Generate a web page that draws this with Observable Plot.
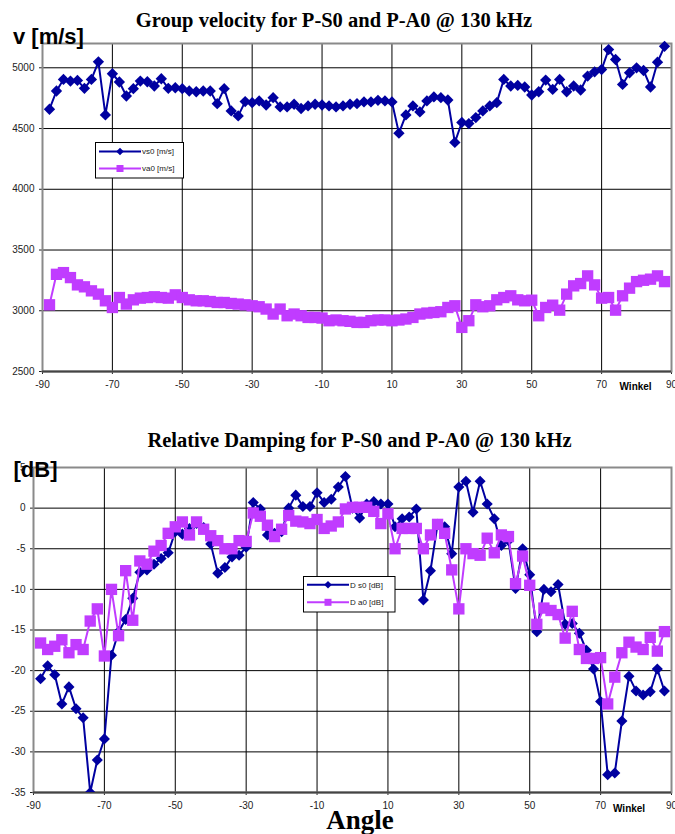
<!DOCTYPE html>
<html>
<head>
<meta charset="utf-8">
<script src="https://cdn.jsdelivr.net/npm/d3@7"></script>
<script src="https://cdn.jsdelivr.net/npm/@observablehq/plot@0.6"></script>
<style>
  body { margin: 0; background: #fff; }
  #wrap { position: relative; width: 675px; height: 834px; overflow: hidden; background: #fff; }
  .panel { position: absolute; left: 0; }
  .legend { position: absolute; }
</style>
</head>
<body>
<div id="wrap"></div>
<script>
// ---------- data ----------
const angles = [
  -88,-86,-84,-82,-80,-78,-76,-74,-72,-70,
  -68,-66,-64,-62,-60,-58,-56,-54,-52,-50,
  -48,-46,-44,-42,-40,-38,-36,-34,-32,-30,
  -28,-26,-24,-22,-20,-18,-16,-14,-12,-10,
  -8,-6,-4,-2,0,2,4,6,8,10,
  12,14,16,18,20,22,24,26,28,30,
  32,34,36,38,40,42,44,46,48,50,
  52,54,56,58,60,62,64,66,68,70,
  72,74,76,78,80,82,84,86,88
];

// group velocity S0 [m/s]
const vs0 = [
  4659,4809,4904,4891,4896,4831,4904,5049,4612,4951,
  4883,4768,4828,4891,4885,4850,4910,4831,4836,4828,
  4809,4803,4809,4809,4705,4828,4645,4604,4722,4713,
  4727,4694,4754,4678,4678,4700,4665,4686,4700,4694,
  4686,4678,4686,4700,4705,4719,4719,4732,4727,4719,
  4462,4612,4686,4637,4727,4760,4754,4735,4386,4550,
  4541,4590,4645,4686,4713,4904,4850,4855,4842,4776,
  4803,4899,4822,4904,4803,4850,4817,4932,4967,4986,
  5150,5068,4863,4959,5000,4978,4842,5046,5177
];

// group velocity A0 [m/s]
const va0 = [
  3049,3300,3314,3273,3213,3197,3164,3137,3082,3027,
  3109,3055,3090,3104,3109,3115,3109,3104,3131,3109,
  3090,3082,3082,3076,3068,3068,3060,3055,3049,3041,
  3033,3014,2973,3014,2959,2973,2959,2945,2945,2940,
  2918,2924,2918,2913,2904,2904,2918,2924,2924,2918,
  2924,2932,2945,2973,2981,2986,2992,3027,3041,2863,
  2918,3049,3033,3041,3090,3109,3123,3090,3082,3087,
  2959,3027,3046,3005,3137,3205,3224,3287,3213,3104,
  3109,3005,3123,3186,3240,3251,3260,3287,3240
];

// relative damping S0 [dB]
const ds0 = [
  -21.0,-19.4,-20.5,-24.1,-22.0,-24.7,-25.8,-35.0,-31.0,-28.4,
  -18.1,-15.2,-13.7,-11.1,-7.9,-7.6,-6.9,-6.2,-5.5,-2.9,
  -3.2,-2.5,-1.9,-2.4,-4.4,-8.0,-7.3,-6.0,-5.8,-4.8,
  0.7,-0.1,-3.3,-3.1,-2.9,0.0,1.6,0.2,0.2,1.9,
  0.7,1.1,2.6,3.9,0.0,-1.2,0.5,0.8,0.5,0.5,
  -2.3,-1.3,-1.1,-0.1,-11.3,-7.7,-2.0,-2.3,-5.6,2.6,
  3.3,-0.5,3.3,0.5,-1.3,-4.6,-4.0,-9.9,-5.0,-8.2,
  -15.2,-10.0,-10.3,-9.4,-14.3,-14.2,-15.4,-17.5,-19.8,-23.8,
  -32.8,-32.6,-26.2,-20.7,-22.5,-23.0,-22.6,-19.8,-22.5
];

// relative damping A0 [dB]
const da0 = [
  -16.6,-17.4,-17.0,-16.2,-17.8,-16.8,-17.4,-13.9,-12.4,-18.2,
  -10.0,-15.7,-7.7,-13.8,-6.5,-6.9,-5.3,-4.6,-3.1,-2.3,
  -1.7,-3.3,-1.7,-2.6,-3.4,-4.0,-5.0,-5.0,-4.0,-4.1,
  -0.6,-1.0,-2.1,-3.5,-2.6,-0.9,-1.6,-1.7,-1.9,-1.4,
  -2.5,-2.2,-1.7,-0.1,0.1,0.1,0.1,-0.4,-1.9,-0.7,
  -5.0,-2.5,-2.5,-2.5,-5.0,-3.3,-2.0,-3.1,-7.6,-12.4,
  -5.0,-5.6,-5.8,-3.7,-5.5,-3.3,-3.5,-9.3,-5.9,-9.5,
  -14.3,-12.3,-12.6,-13.1,-16.0,-12.7,-17.4,-18.5,-18.5,-18.4,
  -24.1,-20.8,-17.8,-16.5,-17.1,-17.4,-15.9,-17.6,-15.2
];

const xTicks = [-90, -70, -50, -30, -10, 10, 30, 50, 70, 90];
const xGrid = [-70, -50, -30, -10, 10, 30, 50, 70];
const vTicks = [2500, 3000, 3500, 4000, 4500, 5000];
const dTicks = [5, 0, -5, -10, -15, -20, -25, -30, -35];

const title1 = "Group velocity for P-S0 and P-A0 @ 130 kHz";
const title2 = "Relative Damping for P-S0 and P-A0 @ 130 kHz";
const yLabel1 = "v [m/s]";
const yLabel2 = "[dB]";
const xLabelSmall = "Winkel";
const xLabelBig = "Angle";
const legend1 = ["vs0 [m/s]", "va0 [m/s]"];
const legend2 = ["D s0 [dB]", "D a0 [dB]"];

// ---------- styling ----------
const blue = "#0000a0";
const pink = "#c03cff";
const sans = "'Liberation Sans', Arial, sans-serif";
const serif = "'Liberation Serif', 'Times New Roman', serif";

const velS0 = angles.map((a, i) => ({angle: a, value: vs0[i]}));
const velA0 = angles.map((a, i) => ({angle: a, value: va0[i]}));
const dmpS0 = angles.map((a, i) => ({angle: a, value: ds0[i]}));
const dmpA0 = angles.map((a, i) => ({angle: a, value: da0[i]}));

const fmt = d => String(d);

// ---------- top chart ----------
const topChart = Plot.plot({
  width: 675, height: 400,
  marginLeft: 42, marginRight: 4, marginTop: 43, marginBottom: 29,
  style: {fontFamily: sans, fontSize: "10px", color: "#222", background: "transparent", overflow: "visible"},
  x: {domain: [-90, 90], ticks: xTicks, tickFormat: fmt, tickSize: 3, tickPadding: 6, label: null},
  y: {domain: [2500, 5200], ticks: vTicks, tickFormat: fmt, tickSize: 3, tickPadding: 5, label: null},
  marks: [
    Plot.ruleY(vTicks, {stroke: "#000", strokeWidth: 1}),
    Plot.ruleX(xGrid, {stroke: "#000", strokeWidth: 1}),
    Plot.frame({stroke: "#8a8a8a", strokeWidth: 2}),
    Plot.ruleY([2500], {stroke: "#444", strokeWidth: 2}),
    Plot.line(velS0, {x: "angle", y: "value", stroke: blue, strokeWidth: 2}),
    Plot.dot(velS0, {x: "angle", y: "value", symbol: "diamond2", r: 5.1, fill: blue}),
    Plot.line(velA0, {x: "angle", y: "value", stroke: pink, strokeWidth: 2}),
    Plot.dot(velA0, {x: "angle", y: "value", symbol: "square", r: 6.4, fill: pink}),
    Plot.text([title1], {text: d => d, frameAnchor: "top-left", dx: 291.5, dy: -17, textAnchor: "middle", lineAnchor: "bottom",
      fontFamily: serif, fontWeight: "bold", fontSize: 20.5, fill: "#000"}),
    Plot.text([yLabel1], {text: d => d, frameAnchor: "top-left", dx: -29.5, dy: 0, textAnchor: "start", lineAnchor: "bottom",
      fontFamily: sans, fontWeight: "bold", fontSize: 22, fill: "#000"}),
    Plot.text([xLabelSmall], {text: d => d, frameAnchor: "top-left", dx: 577, dy: 346.5, textAnchor: "start", lineAnchor: "bottom",
      fontFamily: sans, fontWeight: "bold", fontSize: 10, fill: "#000"})
  ]
});

// ---------- bottom chart ----------
const botChart = Plot.plot({
  width: 675, height: 434,
  marginLeft: 33, marginRight: 4, marginTop: 67, marginBottom: 42,
  style: {fontFamily: sans, fontSize: "10px", color: "#222", background: "transparent", overflow: "visible"},
  x: {domain: [-90, 90], ticks: xTicks, tickFormat: fmt, tickSize: 3, tickPadding: 6, label: null},
  y: {domain: [-35, 5], ticks: dTicks, tickFormat: fmt, tickSize: 3, tickPadding: 5, label: null},
  marks: [
    Plot.ruleY(dTicks.filter(d => d > -35 && d < 5), {stroke: "#000", strokeWidth: 1}),
    Plot.ruleX(xGrid, {stroke: "#000", strokeWidth: 1}),
    Plot.frame({stroke: "#8a8a8a", strokeWidth: 2}),
    Plot.ruleY([-35], {stroke: "#444", strokeWidth: 2}),
    Plot.line(dmpS0, {x: "angle", y: "value", stroke: blue, strokeWidth: 2, clip: true}),
    Plot.dot(dmpS0, {x: "angle", y: "value", symbol: "diamond2", r: 5.0, fill: blue, clip: true}),
    Plot.line(dmpA0, {x: "angle", y: "value", stroke: pink, strokeWidth: 2, clip: true}),
    Plot.dot(dmpA0, {x: "angle", y: "value", symbol: "square", r: 6.4, fill: pink, clip: true}),
    Plot.text([title2], {text: d => d, frameAnchor: "top-left", dx: 326, dy: -21, textAnchor: "middle", lineAnchor: "bottom",
      fontFamily: serif, fontWeight: "bold", fontSize: 20.5, fill: "#000"}),
    Plot.text([yLabel2], {text: d => d, frameAnchor: "top-left", dx: -20, dy: 9.5, textAnchor: "start", lineAnchor: "bottom",
      fontFamily: sans, fontWeight: "bold", fontSize: 22, fill: "#000"}),
    Plot.text([xLabelSmall], {text: d => d, frameAnchor: "top-left", dx: 579.5, dy: 344.5, textAnchor: "start", lineAnchor: "bottom",
      fontFamily: sans, fontWeight: "bold", fontSize: 10, fill: "#000"}),
    Plot.text([xLabelBig], {text: d => d, frameAnchor: "top-left", dx: 326.5, dy: 361, textAnchor: "middle", lineAnchor: "bottom",
      fontFamily: serif, fontWeight: "bold", fontSize: 27, fill: "#000"})
  ]
});

// ---------- assemble ----------
const wrap = document.getElementById("wrap");
const p1 = document.createElement("div"); p1.className = "panel"; p1.style.top = "0px"; p1.appendChild(topChart); wrap.appendChild(p1);
const p2 = document.createElement("div"); p2.className = "panel"; p2.style.top = "400px"; p2.appendChild(botChart); wrap.appendChild(p2);

function makeLegend(left, top, w, h, labels, rows) {
  const ns = "http://www.w3.org/2000/svg";
  const div = document.createElement("div");
  div.className = "legend";
  div.style.left = left + "px"; div.style.top = top + "px";
  const svg = d3.create("svg").attr("width", w + 2).attr("height", h + 2);
  svg.append("rect").attr("x", 0.5).attr("y", 0.5).attr("width", w).attr("height", h)
    .attr("fill", "#fff").attr("stroke", "#000").attr("stroke-width", 1);
  const cols = [blue, pink];
  labels.forEach((lab, i) => {
    const y = rows[i];
    svg.append("line").attr("x1", 4).attr("x2", 46).attr("y1", y).attr("y2", y)
      .attr("stroke", cols[i]).attr("stroke-width", 2);
    if (i === 0) {
      svg.append("path").attr("d", `M25,${y-3.8}L28.8,${y}L25,${y+3.8}L21.2,${y}Z`).attr("fill", cols[i]);
    } else {
      svg.append("rect").attr("x", 21.5).attr("y", y - 3.5).attr("width", 7).attr("height", 7).attr("fill", cols[i]);
    }
    svg.append("text").attr("x", 47).attr("y", y).attr("dy", "0.34em")
      .attr("font-family", sans).attr("font-size", 8).attr("fill", "#222").text(lab);
  });
  div.appendChild(svg.node());
  wrap.appendChild(div);
}
makeLegend(95, 141.5, 88, 35.5, legend1, [9.5, 26.5]);
makeLegend(302.5, 575.5, 91.5, 35.5, legend2, [8.8, 26.3]);
</script>
</body>
</html>
